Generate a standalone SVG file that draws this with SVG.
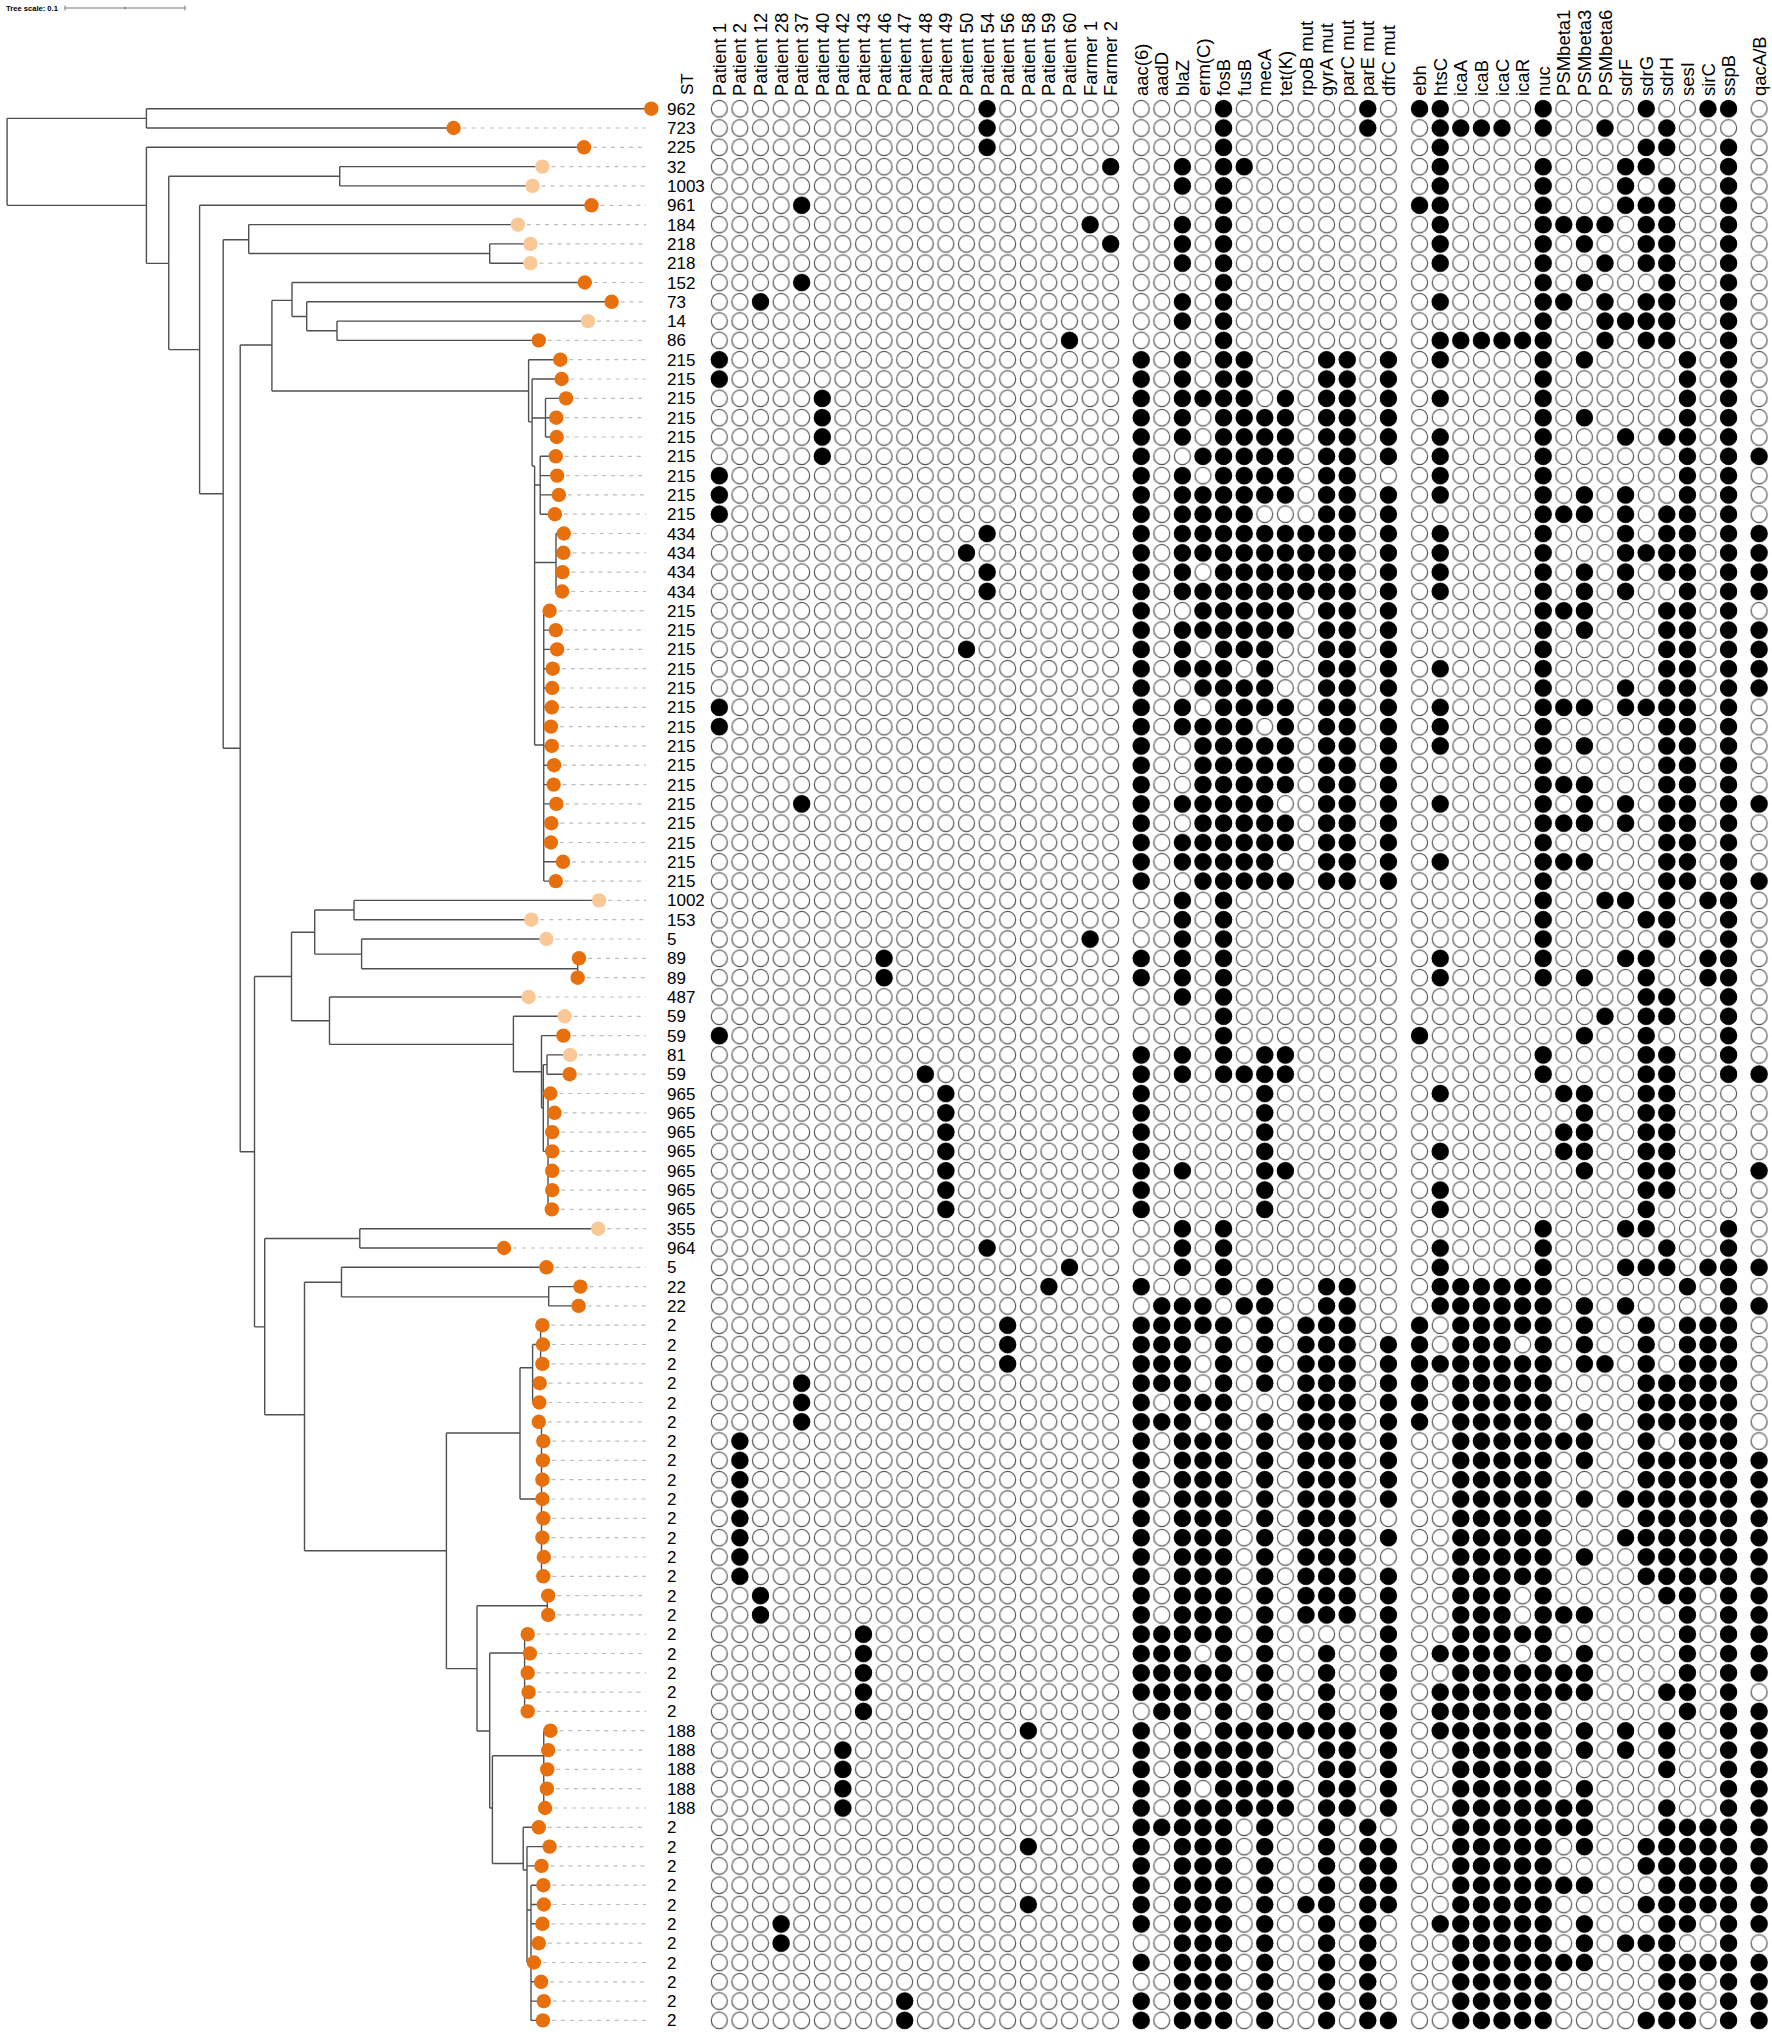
<svg xmlns="http://www.w3.org/2000/svg" width="1772" height="2036" viewBox="0 0 1772 2036">
<style>
text{font-family:"Liberation Sans",Arial,Helvetica,sans-serif;fill:#000}
.hd{font-size:18.5px}
.st{font-size:17px}
.br{fill:none;stroke:#505050;stroke-width:1.4}
.ld{fill:none;stroke:#bdbdbd;stroke-width:1.2;stroke-dasharray:4 5}
.d{fill:#E8700C}
.l{fill:#F9C896}
.bk{fill:none;stroke:#000;stroke-width:17.2;stroke-linecap:round;vector-effect:non-scaling-stroke}
</style>
<defs>
<pattern id="cell" patternUnits="userSpaceOnUse" x="0" y="0" width="20.6" height="19.31">
<ellipse cx="10.3" cy="9.655" rx="8" ry="8.3" fill="#fff" stroke="#555" stroke-width="1.2"/>
</pattern>
</defs>
<rect width="1772" height="2036" fill="#fff"/>

<g id="tree-scale">
<text x="6" y="10.5" style="font-size:7.6px;font-weight:bold">Tree scale: 0.1</text>
<path d="M65 8H185M65 5.5V10.5M185 5.5V10.5M125 6.5V9.5" fill="none" stroke="#555" stroke-width="0.8"/>
</g>

<g id="connectors">
<path class="br" d="M7.1 118.35V205.35M7.1 118.35H146.4M7.1 205.35H146.4M146.4 108.7V128M146.4 108.7H651.3M146.4 128H453.6M146.4 147.3V263.4M146.4 147.3H584M146.4 263.4H168.75M168.75 176.25V349.6M168.75 176.25H339.7M339.7 166.6V185.9M339.7 166.6H542.4M339.7 185.9H532.6M168.75 349.6H199.6M199.6 205.3V493.75M199.6 205.3H591.5M199.6 493.75H223.2M223.2 239.7V748.3M223.2 239.7H248.7M248.7 224.6V253.55M248.7 224.6H517.9M248.7 253.55H489.7M489.7 243.9V263.2M489.7 243.9H530.4M489.7 263.2H530.4M223.2 748.3H240.2M240.2 345V1151.7M240.2 345H271.9M271.9 300.4V391M271.9 300.4H292M292 282.5V316.5M292 282.5H584.8M292 316.5H306.7M306.7 301.8V330.75M306.7 301.8H611.6M306.7 330.75H337M337 321.1V340.4M337 321.1H588M337 340.4H538.8M271.9 391H528.6
M528.6 359.7V421.9M528.6 359.7H560.3M528.6 421.9H532.1M532.1 379V466M532.1 379H561.6M532.1 418H545.5M545.5 398.4V437M545.5 398.4H566.1M545.5 417.7H556.3M545.5 437H556.7M532.1 466H534.6M534.6 466V745M534.6 485H540.2M540.2 456.3V514.2M540.2 456.3H555.8M540.2 475.6H557.1M540.2 494.9H558.9M540.2 514.2H554.9M534.6 562.5H556M556 533.5V591.5M556 533.5H563.8M556 552.8H563.4M556 572.1H562.5M556 591.5H562.1M534.6 745H543.75M543.75 610.8V881.1M543.75 610.8H549.6M543.75 630.1H555.8M543.75 649.4H557.1M543.75 668.7H552.7M543.75 688H552.2M543.75 707.3H551.8M543.75 726.6H550.9M543.75 745.9H551.8M543.75 765.2H554M543.75 784.6H553.6M543.75 803.9H556.3M543.75 823.2H551.3M543.75 842.5H550.9M543.75 861.8H563M543.75 881.1H555.8
M240.2 1151.7H254.5M254.5 976.5V1326.9M254.5 976.5H291.5M291.5 932.2V1020.7M291.5 932.2H314.7M314.7 910.05V954.1M314.7 910.05H354M354 900.4V919.7M354 900.4H599.1M354 919.7H531.3M314.7 954.1H361.6M361.6 939V968.8M361.6 939H546.4M361.6 968.8H577.7M577.7 958.3V977.7M577.7 958.3H579M291.5 1020.7H329.5M329.5 997V1044.4M329.5 997H528.6M329.5 1044.4H513.4M513.4 1016.3V1071.8M513.4 1016.3H564.7M513.4 1071.8H541.5M541.5 1035.6V1108M541.5 1035.6H563.4M541.5 1108H543.3M543.3 1064.6V1151.4M543.3 1064.6H547M547 1054.9V1074.2M547 1054.9H570.1M547 1074.2H569.6M543.3 1151.4H548M548 1093.5V1209.4
M254.5 1326.9H264.7M264.7 1238.5V1414.7M264.7 1238.5H359.8M359.8 1228.7V1248M359.8 1228.7H598.2M359.8 1248H504M264.7 1414.7H304.5M304.5 1282.2V1550.8M304.5 1282.2H341.5M341.5 1267.3V1296.9M341.5 1267.3H546.4M341.5 1296.9H548.7M548.7 1286.6V1305.9M548.7 1286.6H580.4M548.7 1305.9H578.6M304.5 1550.8H446.4M446.4 1433V1668.6M446.4 1433H520M520 1367.8V1499M520 1367.8H532.6M532.6 1344.5V1402.5M532.6 1344.5H540.6M540.6 1325.2V1363.9M532.6 1383.2H539.7M532.6 1402.5H539.3M520 1499H541.5M541.5 1421.8V1576.3M446.4 1668.6H477M477 1605.7V1731M477 1605.7H547.3M547.3 1595.6V1614.9M477 1731H489.7M489.7 1653V1808M489.7 1653H524.6M524.6 1634.2V1711.4M489.7 1808H492.4M492.4 1755.7V1863.5M492.4 1755.7H543.75M543.75 1730.7V1808M543.75 1730.7H550.4M492.4 1863.5H523.2M523.2 1827.3V1870M523.2 1827.3H538.8M523.2 1870H527M527 1846.6V1962.5M527 1846.6H549.6M527 1865.9H541.5M527 1910H531M531 1885.2V2020.4M531 1885.2H543.3M531 1904.5H543.8M531 1923.8H542.4M531 1943.2H538.8M531 1962.5H533.9M531 1981.8H541.1M531 2001.1H543.8M531 2020.4H542.9"/>
<path class="ld" d="M462.6 128H646M593 147.3H646M551.4 166.6H646M541.6 185.9H646M600.5 205.3H646M526.9 224.6H646M539.4 243.9H646M539.4 263.2H646M593.8 282.5H646M620.6 301.8H646M597 321.1H646M547.8 340.4H646M569.3 359.7H646M570.6 379H646M575.1 398.4H646M565.3 417.7H646M565.7 437H646M564.8 456.3H646M566.1 475.6H646M567.9 494.9H646M563.9 514.2H646M572.8 533.5H646M572.4 552.8H646M571.5 572.1H646M571.1 591.5H646M558.6 610.8H646M564.8 630.1H646M566.1 649.4H646M561.7 668.7H646M561.2 688H646M560.8 707.3H646M559.9 726.6H646M560.8 745.9H646M563 765.2H646M562.6 784.6H646M565.3 803.9H646M560.3 823.2H646M559.9 842.5H646M572 861.8H646M564.8 881.1H646M608.1 900.4H646M540.3 919.7H646M555.4 939H646M588 958.3H646M586.7 977.7H646M537.6 997H646M573.7 1016.3H646M572.4 1035.6H646M579.1 1054.9H646M578.6 1074.2H646M559.4 1093.5H646M563.5 1112.8H646M561.2 1132.1H646M561.2 1151.4H646M561.2 1170.8H646M561.2 1190.1H646M560.8 1209.4H646M607.2 1228.7H646M513 1248H646M555.4 1267.3H646M589.4 1286.6H646M587.6 1305.9H646M551.4 1325.2H646M551.9 1344.5H646M551.4 1363.9H646M548.7 1383.2H646M548.3 1402.5H646M547.8 1421.8H646M552.3 1441.1H646M551.9 1460.4H646M551.4 1479.7H646M551.4 1499H646M552.3 1518.3H646M551.4 1537.6H646M552.8 1557H646M552.3 1576.3H646M557.2 1595.6H646M557.2 1614.9H646M536.7 1634.2H646M538.9 1653.5H646M536.7 1672.8H646M537.6 1692.1H646M536.7 1711.4H646M559.4 1730.7H646M557.2 1750.1H646M556.3 1769.4H646M555.9 1788.7H646M554.1 1808H646M547.8 1827.3H646M558.6 1846.6H646M550.5 1865.9H646M552.3 1885.2H646M552.8 1904.5H646M551.4 1923.8H646M547.8 1943.2H646M542.9 1962.5H646M550.1 1981.8H646M552.8 2001.1H646M551.9 2020.4H646"/>
</g>

<g id="tips">
<g id="tip-0"><circle class="d" cx="651.3" cy="108.7" r="7.2"/><text class="st" x="667" y="114.7">962</text></g>
<g id="tip-1"><circle class="d" cx="453.6" cy="128" r="7.2"/><text class="st" x="667" y="134">723</text></g>
<g id="tip-2"><circle class="d" cx="584" cy="147.3" r="7.2"/><text class="st" x="667" y="153.3">225</text></g>
<g id="tip-3"><circle class="l" cx="542.4" cy="166.6" r="7.2"/><text class="st" x="667" y="172.6">32</text></g>
<g id="tip-4"><circle class="l" cx="532.6" cy="185.9" r="7.2"/><text class="st" x="667" y="191.9">1003</text></g>
<g id="tip-5"><circle class="d" cx="591.5" cy="205.3" r="7.2"/><text class="st" x="667" y="211.3">961</text></g>
<g id="tip-6"><circle class="l" cx="517.9" cy="224.6" r="7.2"/><text class="st" x="667" y="230.6">184</text></g>
<g id="tip-7"><circle class="l" cx="530.4" cy="243.9" r="7.2"/><text class="st" x="667" y="249.9">218</text></g>
<g id="tip-8"><circle class="l" cx="530.4" cy="263.2" r="7.2"/><text class="st" x="667" y="269.2">218</text></g>
<g id="tip-9"><circle class="d" cx="584.8" cy="282.5" r="7.2"/><text class="st" x="667" y="288.5">152</text></g>
<g id="tip-10"><circle class="d" cx="611.6" cy="301.8" r="7.2"/><text class="st" x="667" y="307.8">73</text></g>
<g id="tip-11"><circle class="l" cx="588" cy="321.1" r="7.2"/><text class="st" x="667" y="327.1">14</text></g>
<g id="tip-12"><circle class="d" cx="538.8" cy="340.4" r="7.2"/><text class="st" x="667" y="346.4">86</text></g>
<g id="tip-13"><circle class="d" cx="560.3" cy="359.7" r="7.2"/><text class="st" x="667" y="365.7">215</text></g>
<g id="tip-14"><circle class="d" cx="561.6" cy="379" r="7.2"/><text class="st" x="667" y="385">215</text></g>
<g id="tip-15"><circle class="d" cx="566.1" cy="398.4" r="7.2"/><text class="st" x="667" y="404.4">215</text></g>
<g id="tip-16"><circle class="d" cx="556.3" cy="417.7" r="7.2"/><text class="st" x="667" y="423.7">215</text></g>
<g id="tip-17"><circle class="d" cx="556.7" cy="437" r="7.2"/><text class="st" x="667" y="443">215</text></g>
<g id="tip-18"><circle class="d" cx="555.8" cy="456.3" r="7.2"/><text class="st" x="667" y="462.3">215</text></g>
<g id="tip-19"><circle class="d" cx="557.1" cy="475.6" r="7.2"/><text class="st" x="667" y="481.6">215</text></g>
<g id="tip-20"><circle class="d" cx="558.9" cy="494.9" r="7.2"/><text class="st" x="667" y="500.9">215</text></g>
<g id="tip-21"><circle class="d" cx="554.9" cy="514.2" r="7.2"/><text class="st" x="667" y="520.2">215</text></g>
<g id="tip-22"><circle class="d" cx="563.8" cy="533.5" r="7.2"/><text class="st" x="667" y="539.5">434</text></g>
<g id="tip-23"><circle class="d" cx="563.4" cy="552.8" r="7.2"/><text class="st" x="667" y="558.8">434</text></g>
<g id="tip-24"><circle class="d" cx="562.5" cy="572.1" r="7.2"/><text class="st" x="667" y="578.1">434</text></g>
<g id="tip-25"><circle class="d" cx="562.1" cy="591.5" r="7.2"/><text class="st" x="667" y="597.5">434</text></g>
<g id="tip-26"><circle class="d" cx="549.6" cy="610.8" r="7.2"/><text class="st" x="667" y="616.8">215</text></g>
<g id="tip-27"><circle class="d" cx="555.8" cy="630.1" r="7.2"/><text class="st" x="667" y="636.1">215</text></g>
<g id="tip-28"><circle class="d" cx="557.1" cy="649.4" r="7.2"/><text class="st" x="667" y="655.4">215</text></g>
<g id="tip-29"><circle class="d" cx="552.7" cy="668.7" r="7.2"/><text class="st" x="667" y="674.7">215</text></g>
<g id="tip-30"><circle class="d" cx="552.2" cy="688" r="7.2"/><text class="st" x="667" y="694">215</text></g>
<g id="tip-31"><circle class="d" cx="551.8" cy="707.3" r="7.2"/><text class="st" x="667" y="713.3">215</text></g>
<g id="tip-32"><circle class="d" cx="550.9" cy="726.6" r="7.2"/><text class="st" x="667" y="732.6">215</text></g>
<g id="tip-33"><circle class="d" cx="551.8" cy="745.9" r="7.2"/><text class="st" x="667" y="751.9">215</text></g>
<g id="tip-34"><circle class="d" cx="554" cy="765.2" r="7.2"/><text class="st" x="667" y="771.2">215</text></g>
<g id="tip-35"><circle class="d" cx="553.6" cy="784.6" r="7.2"/><text class="st" x="667" y="790.6">215</text></g>
<g id="tip-36"><circle class="d" cx="556.3" cy="803.9" r="7.2"/><text class="st" x="667" y="809.9">215</text></g>
<g id="tip-37"><circle class="d" cx="551.3" cy="823.2" r="7.2"/><text class="st" x="667" y="829.2">215</text></g>
<g id="tip-38"><circle class="d" cx="550.9" cy="842.5" r="7.2"/><text class="st" x="667" y="848.5">215</text></g>
<g id="tip-39"><circle class="d" cx="563" cy="861.8" r="7.2"/><text class="st" x="667" y="867.8">215</text></g>
<g id="tip-40"><circle class="d" cx="555.8" cy="881.1" r="7.2"/><text class="st" x="667" y="887.1">215</text></g>
<g id="tip-41"><circle class="l" cx="599.1" cy="900.4" r="7.2"/><text class="st" x="667" y="906.4">1002</text></g>
<g id="tip-42"><circle class="l" cx="531.3" cy="919.7" r="7.2"/><text class="st" x="667" y="925.7">153</text></g>
<g id="tip-43"><circle class="l" cx="546.4" cy="939" r="7.2"/><text class="st" x="667" y="945">5</text></g>
<g id="tip-44"><circle class="d" cx="579" cy="958.3" r="7.2"/><text class="st" x="667" y="964.3">89</text></g>
<g id="tip-45"><circle class="d" cx="577.7" cy="977.7" r="7.2"/><text class="st" x="667" y="983.7">89</text></g>
<g id="tip-46"><circle class="l" cx="528.6" cy="997" r="7.2"/><text class="st" x="667" y="1003">487</text></g>
<g id="tip-47"><circle class="l" cx="564.7" cy="1016.3" r="7.2"/><text class="st" x="667" y="1022.3">59</text></g>
<g id="tip-48"><circle class="d" cx="563.4" cy="1035.6" r="7.2"/><text class="st" x="667" y="1041.6">59</text></g>
<g id="tip-49"><circle class="l" cx="570.1" cy="1054.9" r="7.2"/><text class="st" x="667" y="1060.9">81</text></g>
<g id="tip-50"><circle class="d" cx="569.6" cy="1074.2" r="7.2"/><text class="st" x="667" y="1080.2">59</text></g>
<g id="tip-51"><circle class="d" cx="550.4" cy="1093.5" r="7.2"/><text class="st" x="667" y="1099.5">965</text></g>
<g id="tip-52"><circle class="d" cx="554.5" cy="1112.8" r="7.2"/><text class="st" x="667" y="1118.8">965</text></g>
<g id="tip-53"><circle class="d" cx="552.2" cy="1132.1" r="7.2"/><text class="st" x="667" y="1138.1">965</text></g>
<g id="tip-54"><circle class="d" cx="552.2" cy="1151.4" r="7.2"/><text class="st" x="667" y="1157.4">965</text></g>
<g id="tip-55"><circle class="d" cx="552.2" cy="1170.8" r="7.2"/><text class="st" x="667" y="1176.8">965</text></g>
<g id="tip-56"><circle class="d" cx="552.2" cy="1190.1" r="7.2"/><text class="st" x="667" y="1196.1">965</text></g>
<g id="tip-57"><circle class="d" cx="551.8" cy="1209.4" r="7.2"/><text class="st" x="667" y="1215.4">965</text></g>
<g id="tip-58"><circle class="l" cx="598.2" cy="1228.7" r="7.2"/><text class="st" x="667" y="1234.7">355</text></g>
<g id="tip-59"><circle class="d" cx="504" cy="1248" r="7.2"/><text class="st" x="667" y="1254">964</text></g>
<g id="tip-60"><circle class="d" cx="546.4" cy="1267.3" r="7.2"/><text class="st" x="667" y="1273.3">5</text></g>
<g id="tip-61"><circle class="d" cx="580.4" cy="1286.6" r="7.2"/><text class="st" x="667" y="1292.6">22</text></g>
<g id="tip-62"><circle class="d" cx="578.6" cy="1305.9" r="7.2"/><text class="st" x="667" y="1311.9">22</text></g>
<g id="tip-63"><circle class="d" cx="542.4" cy="1325.2" r="7.2"/><text class="st" x="667" y="1331.2">2</text></g>
<g id="tip-64"><circle class="d" cx="542.9" cy="1344.5" r="7.2"/><text class="st" x="667" y="1350.5">2</text></g>
<g id="tip-65"><circle class="d" cx="542.4" cy="1363.9" r="7.2"/><text class="st" x="667" y="1369.9">2</text></g>
<g id="tip-66"><circle class="d" cx="539.7" cy="1383.2" r="7.2"/><text class="st" x="667" y="1389.2">2</text></g>
<g id="tip-67"><circle class="d" cx="539.3" cy="1402.5" r="7.2"/><text class="st" x="667" y="1408.5">2</text></g>
<g id="tip-68"><circle class="d" cx="538.8" cy="1421.8" r="7.2"/><text class="st" x="667" y="1427.8">2</text></g>
<g id="tip-69"><circle class="d" cx="543.3" cy="1441.1" r="7.2"/><text class="st" x="667" y="1447.1">2</text></g>
<g id="tip-70"><circle class="d" cx="542.9" cy="1460.4" r="7.2"/><text class="st" x="667" y="1466.4">2</text></g>
<g id="tip-71"><circle class="d" cx="542.4" cy="1479.7" r="7.2"/><text class="st" x="667" y="1485.7">2</text></g>
<g id="tip-72"><circle class="d" cx="542.4" cy="1499" r="7.2"/><text class="st" x="667" y="1505">2</text></g>
<g id="tip-73"><circle class="d" cx="543.3" cy="1518.3" r="7.2"/><text class="st" x="667" y="1524.3">2</text></g>
<g id="tip-74"><circle class="d" cx="542.4" cy="1537.6" r="7.2"/><text class="st" x="667" y="1543.6">2</text></g>
<g id="tip-75"><circle class="d" cx="543.8" cy="1557" r="7.2"/><text class="st" x="667" y="1563">2</text></g>
<g id="tip-76"><circle class="d" cx="543.3" cy="1576.3" r="7.2"/><text class="st" x="667" y="1582.3">2</text></g>
<g id="tip-77"><circle class="d" cx="548.2" cy="1595.6" r="7.2"/><text class="st" x="667" y="1601.6">2</text></g>
<g id="tip-78"><circle class="d" cx="548.2" cy="1614.9" r="7.2"/><text class="st" x="667" y="1620.9">2</text></g>
<g id="tip-79"><circle class="d" cx="527.7" cy="1634.2" r="7.2"/><text class="st" x="667" y="1640.2">2</text></g>
<g id="tip-80"><circle class="d" cx="529.9" cy="1653.5" r="7.2"/><text class="st" x="667" y="1659.5">2</text></g>
<g id="tip-81"><circle class="d" cx="527.7" cy="1672.8" r="7.2"/><text class="st" x="667" y="1678.8">2</text></g>
<g id="tip-82"><circle class="d" cx="528.6" cy="1692.1" r="7.2"/><text class="st" x="667" y="1698.1">2</text></g>
<g id="tip-83"><circle class="d" cx="527.7" cy="1711.4" r="7.2"/><text class="st" x="667" y="1717.4">2</text></g>
<g id="tip-84"><circle class="d" cx="550.4" cy="1730.7" r="7.2"/><text class="st" x="667" y="1736.7">188</text></g>
<g id="tip-85"><circle class="d" cx="548.2" cy="1750.1" r="7.2"/><text class="st" x="667" y="1756.1">188</text></g>
<g id="tip-86"><circle class="d" cx="547.3" cy="1769.4" r="7.2"/><text class="st" x="667" y="1775.4">188</text></g>
<g id="tip-87"><circle class="d" cx="546.9" cy="1788.7" r="7.2"/><text class="st" x="667" y="1794.7">188</text></g>
<g id="tip-88"><circle class="d" cx="545.1" cy="1808" r="7.2"/><text class="st" x="667" y="1814">188</text></g>
<g id="tip-89"><circle class="d" cx="538.8" cy="1827.3" r="7.2"/><text class="st" x="667" y="1833.3">2</text></g>
<g id="tip-90"><circle class="d" cx="549.6" cy="1846.6" r="7.2"/><text class="st" x="667" y="1852.6">2</text></g>
<g id="tip-91"><circle class="d" cx="541.5" cy="1865.9" r="7.2"/><text class="st" x="667" y="1871.9">2</text></g>
<g id="tip-92"><circle class="d" cx="543.3" cy="1885.2" r="7.2"/><text class="st" x="667" y="1891.2">2</text></g>
<g id="tip-93"><circle class="d" cx="543.8" cy="1904.5" r="7.2"/><text class="st" x="667" y="1910.5">2</text></g>
<g id="tip-94"><circle class="d" cx="542.4" cy="1923.8" r="7.2"/><text class="st" x="667" y="1929.8">2</text></g>
<g id="tip-95"><circle class="d" cx="538.8" cy="1943.2" r="7.2"/><text class="st" x="667" y="1949.2">2</text></g>
<g id="tip-96"><circle class="d" cx="533.9" cy="1962.5" r="7.2"/><text class="st" x="667" y="1968.5">2</text></g>
<g id="tip-97"><circle class="d" cx="541.1" cy="1981.8" r="7.2"/><text class="st" x="667" y="1987.8">2</text></g>
<g id="tip-98"><circle class="d" cx="543.8" cy="2001.1" r="7.2"/><text class="st" x="667" y="2007.1">2</text></g>
<g id="tip-99"><circle class="d" cx="542.9" cy="2020.4" r="7.2"/><text class="st" x="667" y="2026.4">2</text></g>
</g>

<g id="headers" transform="rotate(-90)">
<text class="st" x="-95" y="692.5">ST</text>
<text class="hd" x="-96" y="725.8">Patient 1</text>
<text class="hd" x="-96" y="746.4">Patient 2</text>
<text class="hd" x="-96" y="767">Patient 12</text>
<text class="hd" x="-96" y="787.6">Patient 28</text>
<text class="hd" x="-96" y="808.2">Patient 37</text>
<text class="hd" x="-96" y="828.8">Patient 40</text>
<text class="hd" x="-96" y="849.4">Patient 42</text>
<text class="hd" x="-96" y="870">Patient 43</text>
<text class="hd" x="-96" y="890.6">Patient 46</text>
<text class="hd" x="-96" y="911.2">Patient 47</text>
<text class="hd" x="-96" y="931.8">Patient 48</text>
<text class="hd" x="-96" y="952.4">Patient 49</text>
<text class="hd" x="-96" y="973">Patient 50</text>
<text class="hd" x="-96" y="993.6">Patient 54</text>
<text class="hd" x="-96" y="1014.2">Patient 56</text>
<text class="hd" x="-96" y="1034.8">Patient 58</text>
<text class="hd" x="-96" y="1055.4">Patient 59</text>
<text class="hd" x="-96" y="1076">Patient 60</text>
<text class="hd" x="-96" y="1096.6">Farmer 1</text>
<text class="hd" x="-96" y="1117.2">Farmer 2</text>
<text class="hd" x="-96" y="1147.7">aac(6)</text>
<text class="hd" x="-96" y="1168.3">aadD</text>
<text class="hd" x="-96" y="1188.9">blaZ</text>
<text class="hd" x="-96" y="1209.5">erm(C)</text>
<text class="hd" x="-96" y="1230.1">fosB</text>
<text class="hd" x="-96" y="1250.7">fusB</text>
<text class="hd" x="-96" y="1271.3">mecA</text>
<text class="hd" x="-96" y="1291.9">tet(K)</text>
<text class="hd" x="-96" y="1312.5">rpoB mut</text>
<text class="hd" x="-96" y="1333.1">gyrA mut</text>
<text class="hd" x="-96" y="1353.7">parC mut</text>
<text class="hd" x="-96" y="1374.3">parE mut</text>
<text class="hd" x="-96" y="1394.9">dfrC mut</text>
<text class="hd" x="-96" y="1426.1">ebh</text>
<text class="hd" x="-96" y="1446.7">htsC</text>
<text class="hd" x="-96" y="1467.3">icaA</text>
<text class="hd" x="-96" y="1487.9">icaB</text>
<text class="hd" x="-96" y="1508.5">icaC</text>
<text class="hd" x="-96" y="1529.1">icaR</text>
<text class="hd" x="-96" y="1549.7">nuc</text>
<text class="hd" x="-96" y="1570.3">PSMbeta1</text>
<text class="hd" x="-96" y="1590.9">PSMbeta3</text>
<text class="hd" x="-96" y="1611.5">PSMbeta6</text>
<text class="hd" x="-96" y="1632.1">sdrF</text>
<text class="hd" x="-96" y="1652.7">sdrG</text>
<text class="hd" x="-96" y="1673.3">sdrH</text>
<text class="hd" x="-96" y="1693.9">sesI</text>
<text class="hd" x="-96" y="1714.5">sirC</text>
<text class="hd" x="-96" y="1735.1">sspB</text>
<text class="hd" x="-96" y="1765.6">qacA/B</text>
</g>

<g id="grid">
<g transform="translate(709,99.045)"><rect width="412" height="1931" fill="url(#cell)"/></g>
<g transform="translate(1130.9,99.045)"><rect width="267.8" height="1931" fill="url(#cell)"/></g>
<g transform="translate(1409.3,99.045)"><rect width="329.6" height="1931" fill="url(#cell)"/></g>
<g transform="translate(1748.8,99.045)"><rect width="20.6" height="1931" fill="url(#cell)"/></g>
</g>

<g id="presence-patients" transform="translate(719.3,108.7) scale(20.6,19.31)">
<path class="bk" d="M13 0h0M13 1h0M13 2h0M19 3h0M4 5h0M18 6h0M19 7h0M4 9h0M2 10h0M17 12h0M0 13h0M0 14h0M5 15h0M5 16h0M5 17h0M5 18h0M0 19h0M0 20h0M0 21h0M13 22h0M12 23h0M13 24h0M13 25h0M12 28h0M0 31h0M0 32h0M4 36h0M18 43h0M8 44h0M8 45h0M0 48h0M10 50h0M11 51h0M11 52h0M11 53h0M11 54h0M11 55h0M11 56h0M11 57h0M13 59h0M17 60h0M16 61h0M14 63h0M14 64h0M14 65h0M4 66h0M4 67h0M4 68h0M1 69h0M1 70h0M1 71h0M1 72h0M1 73h0M1 74h0M1 75h0M1 76h0M2 77h0M2 78h0M7 79h0M7 80h0M7 81h0M7 82h0M7 83h0M15 84h0M6 85h0M6 86h0M6 87h0M6 88h0M15 90h0M15 93h0M3 94h0M3 95h0M9 98h0M9 99h0"/>
</g>

<g id="presence-resistance" transform="translate(1141.2,108.7) scale(20.6,19.31)">
<path class="bk" d="M4 0h0M11 0h0M4 1h0M11 1h0M4 2h0M2 3h0M4 3h0M5 3h0M2 4h0M4 4h0M4 5h0M2 6h0M4 6h0M2 7h0M4 7h0M2 8h0M4 8h0M4 9h0M2 10h0M4 10h0M2 11h0M4 11h0M4 12h0
M0 13h0M2 13h0M4 13h0M5 13h0M9 13h0M10 13h0M12 13h0
M0 14h0M2 14h0M4 14h0M5 14h0M9 14h0M10 14h0M12 14h0
M0 15h0M2 15h0M3 15h0M4 15h0M5 15h0M7 15h0M9 15h0M10 15h0M12 15h0
M0 16h0M2 16h0M4 16h0M5 16h0M6 16h0M7 16h0M9 16h0M10 16h0M12 16h0
M0 17h0M2 17h0M4 17h0M5 17h0M6 17h0M7 17h0M9 17h0M10 17h0M12 17h0
M0 18h0M3 18h0M4 18h0M5 18h0M6 18h0M7 18h0M9 18h0M10 18h0M12 18h0
M0 19h0M2 19h0M4 19h0M5 19h0M6 19h0M7 19h0M9 19h0M10 19h0
M0 20h0M2 20h0M3 20h0M4 20h0M5 20h0M6 20h0M7 20h0M9 20h0M10 20h0M12 20h0
M0 21h0M2 21h0M3 21h0M4 21h0M5 21h0M9 21h0M10 21h0M12 21h0
M0 22h0M2 22h0M3 22h0M4 22h0M5 22h0M6 22h0M7 22h0M8 22h0M9 22h0M10 22h0M12 22h0
M0 23h0M2 23h0M3 23h0M4 23h0M5 23h0M6 23h0M7 23h0M8 23h0M9 23h0M10 23h0M12 23h0
M0 24h0M2 24h0M4 24h0M5 24h0M6 24h0M7 24h0M8 24h0M9 24h0M10 24h0M12 24h0
M0 25h0M2 25h0M3 25h0M4 25h0M5 25h0M6 25h0M7 25h0M8 25h0M9 25h0M10 25h0M12 25h0
M0 26h0M3 26h0M4 26h0M5 26h0M6 26h0M7 26h0M9 26h0M10 26h0M12 26h0
M0 27h0M2 27h0M3 27h0M4 27h0M5 27h0M6 27h0M7 27h0M9 27h0M10 27h0M12 27h0
M0 28h0M2 28h0M4 28h0M5 28h0M6 28h0M9 28h0M10 28h0M12 28h0
M0 29h0M2 29h0M3 29h0M4 29h0M6 29h0M9 29h0M10 29h0M12 29h0
M0 30h0M3 30h0M4 30h0M5 30h0M6 30h0M9 30h0M10 30h0M12 30h0
M0 31h0M2 31h0M4 31h0M5 31h0M6 31h0M7 31h0M9 31h0M10 31h0M12 31h0
M0 32h0M2 32h0M3 32h0M4 32h0M5 32h0M7 32h0M9 32h0M10 32h0M12 32h0
M0 33h0M3 33h0M4 33h0M5 33h0M6 33h0M7 33h0M9 33h0M10 33h0M12 33h0
M0 34h0M3 34h0M4 34h0M5 34h0M6 34h0M7 34h0M9 34h0M10 34h0M12 34h0
M0 35h0M3 35h0M4 35h0M5 35h0M6 35h0M7 35h0M9 35h0M10 35h0M12 35h0
M0 36h0M2 36h0M3 36h0M4 36h0M5 36h0M6 36h0M9 36h0M10 36h0M12 36h0
M0 37h0M3 37h0M4 37h0M5 37h0M6 37h0M7 37h0M9 37h0M10 37h0M12 37h0
M0 38h0M2 38h0M3 38h0M4 38h0M5 38h0M6 38h0M7 38h0M9 38h0M10 38h0M12 38h0
M0 39h0M2 39h0M3 39h0M4 39h0M5 39h0M6 39h0M9 39h0M10 39h0M12 39h0
M0 40h0M3 40h0M4 40h0M5 40h0M6 40h0M7 40h0M9 40h0M10 40h0M12 40h0
M2 41h0M4 41h0M2 42h0M4 42h0M2 43h0M4 43h0M0 44h0M2 44h0M4 44h0M0 45h0M2 45h0M4 45h0M2 46h0M4 46h0M4 47h0M4 48h0
M0 49h0M2 49h0M4 49h0M6 49h0M7 49h0
M0 50h0M2 50h0M4 50h0M5 50h0M6 50h0M7 50h0
M0 51h0M6 51h0M0 52h0M6 52h0M0 53h0M6 53h0M0 54h0M6 54h0M0 55h0M2 55h0M6 55h0M7 55h0M0 56h0M6 56h0M0 57h0M6 57h0
M2 58h0M4 58h0M2 59h0M4 59h0M2 60h0M4 60h0
M0 61h0M4 61h0M6 61h0M9 61h0M10 61h0
M1 62h0M2 62h0M3 62h0M5 62h0M6 62h0M9 62h0M10 62h0
M0 63h0M1 63h0M2 63h0M3 63h0M4 63h0M6 63h0M8 63h0M9 63h0M10 63h0
M0 64h0M1 64h0M2 64h0M4 64h0M6 64h0M8 64h0M9 64h0M10 64h0M12 64h0
M0 65h0M1 65h0M2 65h0M4 65h0M6 65h0M8 65h0M9 65h0M10 65h0M12 65h0
M0 66h0M1 66h0M2 66h0M4 66h0M6 66h0M8 66h0M9 66h0M10 66h0M12 66h0
M0 67h0M2 67h0M3 67h0M4 67h0M8 67h0M9 67h0M10 67h0M12 67h0
M0 68h0M1 68h0M2 68h0M4 68h0M6 68h0M8 68h0M9 68h0M10 68h0M12 68h0
M0 69h0M2 69h0M3 69h0M4 69h0M6 69h0M8 69h0M9 69h0M10 69h0M12 69h0
M0 70h0M2 70h0M3 70h0M4 70h0M6 70h0M8 70h0M9 70h0M10 70h0M12 70h0
M0 71h0M2 71h0M3 71h0M4 71h0M6 71h0M8 71h0M9 71h0M10 71h0M12 71h0
M0 72h0M2 72h0M3 72h0M4 72h0M6 72h0M8 72h0M9 72h0M10 72h0M12 72h0
M0 73h0M2 73h0M3 73h0M4 73h0M6 73h0M8 73h0M9 73h0M10 73h0
M0 74h0M2 74h0M3 74h0M4 74h0M6 74h0M8 74h0M9 74h0M10 74h0M12 74h0
M0 75h0M2 75h0M3 75h0M4 75h0M6 75h0M8 75h0M9 75h0M10 75h0
M0 76h0M2 76h0M3 76h0M4 76h0M6 76h0M8 76h0M9 76h0M10 76h0M12 76h0
M0 77h0M2 77h0M3 77h0M4 77h0M6 77h0M8 77h0M9 77h0M10 77h0M12 77h0
M0 78h0M2 78h0M3 78h0M4 78h0M6 78h0M8 78h0M9 78h0M10 78h0M12 78h0
M0 79h0M1 79h0M2 79h0M3 79h0M4 79h0M6 79h0M12 79h0
M0 80h0M1 80h0M2 80h0M4 80h0M6 80h0M9 80h0M12 80h0
M0 81h0M1 81h0M2 81h0M3 81h0M4 81h0M6 81h0M9 81h0M12 81h0
M0 82h0M1 82h0M2 82h0M3 82h0M4 82h0M6 82h0M9 82h0M12 82h0
M1 83h0M2 83h0M4 83h0M6 83h0M9 83h0M12 83h0
M0 84h0M2 84h0M4 84h0M5 84h0M6 84h0M7 84h0M8 84h0M9 84h0M10 84h0M12 84h0
M0 85h0M2 85h0M3 85h0M4 85h0M5 85h0M6 85h0M9 85h0M10 85h0M12 85h0
M0 86h0M2 86h0M3 86h0M4 86h0M5 86h0M6 86h0M9 86h0M10 86h0M12 86h0
M0 87h0M2 87h0M4 87h0M5 87h0M6 87h0M7 87h0M9 87h0M10 87h0M12 87h0
M0 88h0M2 88h0M3 88h0M4 88h0M5 88h0M6 88h0M7 88h0M9 88h0M10 88h0M12 88h0
M0 89h0M1 89h0M2 89h0M3 89h0M4 89h0M6 89h0M9 89h0M11 89h0
M0 90h0M2 90h0M3 90h0M4 90h0M6 90h0M9 90h0M11 90h0M12 90h0
M0 91h0M2 91h0M3 91h0M4 91h0M6 91h0M9 91h0M11 91h0M12 91h0
M0 92h0M2 92h0M3 92h0M4 92h0M6 92h0M9 92h0M11 92h0M12 92h0
M0 93h0M2 93h0M3 93h0M4 93h0M6 93h0M8 93h0M9 93h0M11 93h0M12 93h0
M0 94h0M2 94h0M3 94h0M4 94h0M6 94h0M9 94h0M11 94h0
M2 95h0M3 95h0M4 95h0M6 95h0M9 95h0M11 95h0
M0 96h0M2 96h0M3 96h0M4 96h0M6 96h0M9 96h0M11 96h0
M2 97h0M3 97h0M4 97h0M6 97h0M9 97h0M11 97h0
M0 98h0M2 98h0M3 98h0M4 98h0M6 98h0M9 98h0M11 98h0
M0 99h0M2 99h0M3 99h0M4 99h0M6 99h0M9 99h0M11 99h0M12 99h0"/>
</g>

<g id="presence-virulence" transform="translate(1419.6,108.7) scale(20.6,19.31)">
<path class="bk" d="M0 0h0M1 0h0M6 0h0M11 0h0M14 0h0M15 0h0
M1 1h0M2 1h0M3 1h0M4 1h0M6 1h0M9 1h0M12 1h0
M1 2h0M11 2h0M12 2h0M15 2h0
M1 3h0M6 3h0M10 3h0M11 3h0M15 3h0
M1 4h0M6 4h0M10 4h0M12 4h0M15 4h0
M0 5h0M1 5h0M6 5h0M10 5h0M11 5h0M12 5h0M15 5h0
M1 6h0M6 6h0M7 6h0M8 6h0M9 6h0M11 6h0M12 6h0M15 6h0
M1 7h0M6 7h0M8 7h0M11 7h0M12 7h0M15 7h0
M1 8h0M6 8h0M9 8h0M11 8h0M12 8h0M15 8h0
M6 9h0M8 9h0M12 9h0M15 9h0
M1 10h0M6 10h0M7 10h0M9 10h0M11 10h0M12 10h0M15 10h0
M6 11h0M9 11h0M10 11h0M11 11h0M12 11h0M15 11h0
M1 12h0M2 12h0M3 12h0M4 12h0M5 12h0M6 12h0M9 12h0M11 12h0M12 12h0M15 12h0
M1 13h0M6 13h0M8 13h0M13 13h0M15 13h0
M6 14h0M13 14h0M15 14h0
M1 15h0M6 15h0M13 15h0M15 15h0
M6 16h0M8 16h0M13 16h0M15 16h0
M1 17h0M6 17h0M10 17h0M12 17h0M13 17h0M15 17h0
M1 18h0M6 18h0M13 18h0M15 18h0
M1 19h0M6 19h0M13 19h0M15 19h0
M1 20h0M6 20h0M8 20h0M10 20h0M13 20h0M15 20h0
M6 21h0M7 21h0M8 21h0M10 21h0M12 21h0M13 21h0M15 21h0
M1 22h0M6 22h0M10 22h0M12 22h0M13 22h0M15 22h0
M1 23h0M6 23h0M10 23h0M11 23h0M12 23h0M13 23h0M15 23h0
M1 24h0M6 24h0M8 24h0M10 24h0M12 24h0M13 24h0M15 24h0
M1 25h0M6 25h0M8 25h0M10 25h0M13 25h0M15 25h0
M6 26h0M7 26h0M8 26h0M12 26h0M13 26h0M15 26h0
M6 27h0M8 27h0M12 27h0M13 27h0M15 27h0
M6 28h0M12 28h0M13 28h0M15 28h0
M1 29h0M6 29h0M12 29h0M13 29h0M15 29h0
M6 30h0M10 30h0M12 30h0M13 30h0M15 30h0
M1 31h0M6 31h0M7 31h0M8 31h0M10 31h0M11 31h0M12 31h0M13 31h0M15 31h0
M1 32h0M6 32h0M12 32h0M13 32h0M15 32h0
M1 33h0M6 33h0M8 33h0M12 33h0M13 33h0M15 33h0
M6 34h0M12 34h0M13 34h0M15 34h0
M6 35h0M7 35h0M8 35h0M12 35h0M13 35h0M15 35h0
M1 36h0M6 36h0M8 36h0M10 36h0M12 36h0M13 36h0M15 36h0
M6 37h0M7 37h0M8 37h0M10 37h0M12 37h0M13 37h0M15 37h0
M6 38h0M12 38h0M13 38h0M15 38h0
M1 39h0M6 39h0M7 39h0M8 39h0M12 39h0M13 39h0M15 39h0
M6 40h0M12 40h0M13 40h0M15 40h0
M6 41h0M9 41h0M10 41h0M12 41h0M14 41h0M15 41h0
M6 42h0M11 42h0M12 42h0M15 42h0
M6 43h0M12 43h0M15 43h0
M1 44h0M6 44h0M10 44h0M11 44h0M14 44h0M15 44h0
M1 45h0M6 45h0M8 45h0M11 45h0M14 45h0M15 45h0
M11 46h0M12 46h0M15 46h0
M9 47h0M11 47h0M12 47h0M15 47h0
M0 48h0M8 48h0M11 48h0M15 48h0
M6 49h0M11 49h0M12 49h0M15 49h0
M6 50h0M11 50h0M12 50h0M15 50h0
M1 51h0M7 51h0M8 51h0M11 51h0M12 51h0
M8 52h0M11 52h0M12 52h0
M7 53h0M8 53h0M11 53h0M12 53h0
M1 54h0M7 54h0M8 54h0M11 54h0M12 54h0
M8 55h0M11 55h0M12 55h0
M1 56h0M11 56h0M12 56h0
M1 57h0M11 57h0
M6 58h0M10 58h0M11 58h0M15 58h0
M1 59h0M6 59h0M12 59h0M15 59h0
M1 60h0M6 60h0M10 60h0M11 60h0M12 60h0M14 60h0M15 60h0
M1 61h0M2 61h0M3 61h0M4 61h0M5 61h0M6 61h0M13 61h0M15 61h0
M1 62h0M2 62h0M3 62h0M4 62h0M5 62h0M6 62h0M8 62h0M10 62h0M15 62h0
M0 63h0M2 63h0M3 63h0M4 63h0M5 63h0M6 63h0M8 63h0M11 63h0M13 63h0M14 63h0M15 63h0
M0 64h0M2 64h0M3 64h0M4 64h0M6 64h0M8 64h0M11 64h0M13 64h0M14 64h0M15 64h0
M0 65h0M1 65h0M2 65h0M3 65h0M4 65h0M5 65h0M6 65h0M8 65h0M9 65h0M11 65h0M13 65h0M14 65h0M15 65h0
M0 66h0M2 66h0M3 66h0M4 66h0M5 66h0M6 66h0M11 66h0M12 66h0M13 66h0M14 66h0M15 66h0
M0 67h0M2 67h0M3 67h0M4 67h0M5 67h0M6 67h0M11 67h0M12 67h0M13 67h0M14 67h0M15 67h0
M0 68h0M2 68h0M3 68h0M4 68h0M5 68h0M6 68h0M8 68h0M11 68h0M12 68h0M13 68h0M14 68h0M15 68h0
M2 69h0M3 69h0M4 69h0M5 69h0M6 69h0M7 69h0M8 69h0M11 69h0M13 69h0M14 69h0M15 69h0
M2 70h0M3 70h0M4 70h0M5 70h0M6 70h0M8 70h0M11 70h0M12 70h0M13 70h0M14 70h0M15 70h0
M2 71h0M3 71h0M4 71h0M5 71h0M6 71h0M11 71h0M12 71h0M13 71h0M14 71h0M15 71h0
M2 72h0M3 72h0M4 72h0M5 72h0M6 72h0M8 72h0M10 72h0M11 72h0M12 72h0M13 72h0M14 72h0M15 72h0
M2 73h0M3 73h0M4 73h0M5 73h0M6 73h0M11 73h0M12 73h0M13 73h0M14 73h0M15 73h0
M2 74h0M3 74h0M4 74h0M5 74h0M6 74h0M10 74h0M11 74h0M12 74h0M13 74h0M14 74h0M15 74h0
M2 75h0M3 75h0M4 75h0M5 75h0M6 75h0M8 75h0M11 75h0M12 75h0M13 75h0M14 75h0M15 75h0
M2 76h0M3 76h0M4 76h0M5 76h0M6 76h0M11 76h0M12 76h0M13 76h0M14 76h0M15 76h0
M2 77h0M3 77h0M4 77h0M6 77h0M12 77h0M13 77h0M15 77h0
M2 78h0M3 78h0M4 78h0M6 78h0M7 78h0M8 78h0M13 78h0M15 78h0
M2 79h0M3 79h0M4 79h0M5 79h0M6 79h0M13 79h0M15 79h0
M1 80h0M2 80h0M3 80h0M4 80h0M6 80h0M8 80h0M13 80h0M15 80h0
M2 81h0M3 81h0M4 81h0M5 81h0M6 81h0M7 81h0M8 81h0M13 81h0M15 81h0
M1 82h0M2 82h0M3 82h0M4 82h0M5 82h0M6 82h0M7 82h0M8 82h0M12 82h0M13 82h0M15 82h0
M1 83h0M2 83h0M3 83h0M4 83h0M5 83h0M6 83h0M13 83h0M15 83h0
M1 84h0M2 84h0M3 84h0M4 84h0M5 84h0M6 84h0M8 84h0M10 84h0M12 84h0M15 84h0
M2 85h0M3 85h0M4 85h0M5 85h0M6 85h0M8 85h0M10 85h0M12 85h0M15 85h0
M2 86h0M3 86h0M4 86h0M5 86h0M6 86h0M12 86h0M15 86h0
M2 87h0M3 87h0M4 87h0M5 87h0M6 87h0M8 87h0M15 87h0
M2 88h0M3 88h0M4 88h0M5 88h0M6 88h0M7 88h0M8 88h0M12 88h0M15 88h0
M2 89h0M3 89h0M4 89h0M5 89h0M6 89h0M7 89h0M8 89h0M12 89h0M13 89h0M14 89h0M15 89h0
M2 90h0M3 90h0M4 90h0M5 90h0M6 90h0M8 90h0M11 90h0M12 90h0M13 90h0M14 90h0M15 90h0
M2 91h0M3 91h0M4 91h0M5 91h0M6 91h0M11 91h0M12 91h0M13 91h0M14 91h0M15 91h0
M2 92h0M3 92h0M4 92h0M5 92h0M6 92h0M7 92h0M8 92h0M12 92h0M13 92h0M14 92h0M15 92h0
M2 93h0M3 93h0M4 93h0M5 93h0M6 93h0M11 93h0M12 93h0M13 93h0M14 93h0M15 93h0
M1 94h0M2 94h0M3 94h0M4 94h0M5 94h0M6 94h0M8 94h0M12 94h0M13 94h0M15 94h0
M2 95h0M3 95h0M4 95h0M5 95h0M6 95h0M8 95h0M10 95h0M11 95h0M12 95h0M15 95h0
M2 96h0M3 96h0M4 96h0M5 96h0M6 96h0M7 96h0M8 96h0M12 96h0M13 96h0M14 96h0M15 96h0
M2 97h0M3 97h0M4 97h0M5 97h0M6 97h0M12 97h0M13 97h0M15 97h0
M2 98h0M3 98h0M4 98h0M5 98h0M6 98h0M12 98h0M13 98h0M15 98h0
M2 99h0M3 99h0M4 99h0M5 99h0M6 99h0M11 99h0M12 99h0M13 99h0M15 99h0"/>
</g>

<g id="presence-qac" transform="translate(1759.1,108.7) scale(20.6,19.31)">
<path class="bk" d="M0 18h0M0 22h0M0 23h0M0 24h0M0 25h0M0 27h0M0 28h0M0 29h0M0 30h0M0 36h0M0 40h0M0 50h0M0 55h0M0 60h0M0 62h0M0 70h0M0 71h0M0 72h0M0 73h0M0 74h0M0 75h0M0 76h0M0 77h0M0 78h0M0 79h0M0 80h0M0 81h0M0 83h0M0 84h0M0 85h0M0 86h0M0 87h0M0 88h0M0 89h0M0 90h0M0 91h0M0 92h0M0 93h0M0 94h0M0 96h0M0 97h0M0 98h0M0 99h0"/>
</g>
</svg>
